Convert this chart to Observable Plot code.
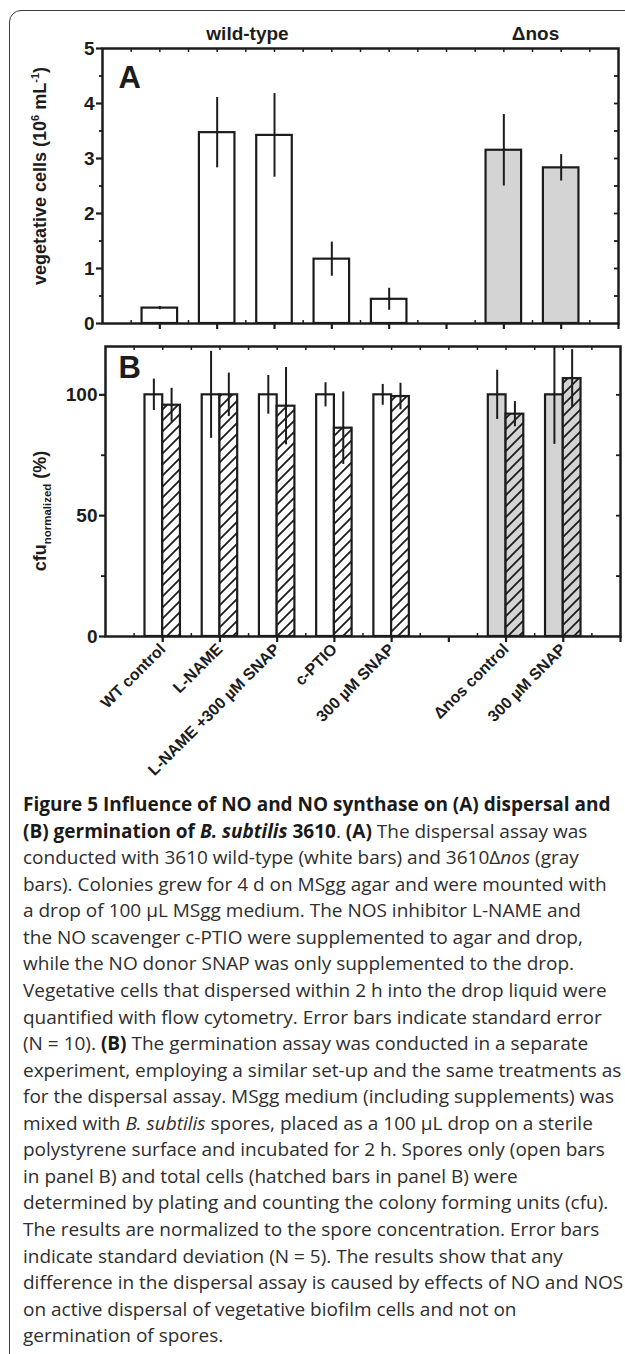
<!DOCTYPE html>
<html><head><meta charset="utf-8">
<script src="https://cdn.jsdelivr.net/npm/d3@7"></script>
<script src="https://cdn.jsdelivr.net/npm/@observablehq/plot@0.6"></script>
<style>
html,body{margin:0;padding:0;background:#fff;width:625px;height:1354px;overflow:hidden;}
#frame{position:absolute;left:9px;top:10px;width:800px;height:1500px;border:1.4px solid #3c3c3c;border-top-left-radius:12px;box-sizing:border-box;}
#panelA{position:absolute;left:0;top:0;}
#panelB{position:absolute;left:0;top:330px;}
#caption{position:absolute;left:23px;top:791px;font-family:"Open Sans",sans-serif;font-size:19px;line-height:26.57px;color:#2e2e2e;white-space:nowrap;}
#caption b{font-weight:700;color:#1a1a1a}
</style></head><body>
<div id="frame"></div>
<div id="panelA"></div>
<div id="panelB"></div>
<div id="caption">
<b>Figure 5 Influence of NO and NO synthase on (A) dispersal and</b><br>
<b>(B) germination of <i>B. subtilis</i> 3610</b>. <b>(A)</b> The dispersal assay was<br>
conducted with 3610 wild-type (white bars) and 3610Δ<i>nos</i> (gray<br>
bars). Colonies grew for 4 d on MSgg agar and were mounted with<br>
a drop of 100 µL MSgg medium. The NOS inhibitor L-NAME and<br>
the NO scavenger c-PTIO were supplemented to agar and drop,<br>
while the NO donor SNAP was only supplemented to the drop.<br>
Vegetative cells that dispersed within 2 h into the drop liquid were<br>
quantified with flow cytometry. Error bars indicate standard error<br>
(N = 10). <b>(B)</b> The germination assay was conducted in a separate<br>
experiment, employing a similar set-up and the same treatments as<br>
for the dispersal assay. MSgg medium (including supplements) was<br>
mixed with <i>B. subtilis</i> spores, placed as a 100 µL drop on a sterile<br>
polystyrene surface and incubated for 2 h. Spores only (open bars<br>
in panel B) and total cells (hatched bars in panel B) were<br>
determined by plating and counting the colony forming units (cfu).<br>
The results are normalized to the spore concentration. Error bars<br>
indicate standard deviation (N = 5). The results show that any<br>
difference in the dispersal assay is caused by effects of NO and NOS<br>
on active dispersal of vegetative biofilm cells and not on<br>
germination of spores.
</div>
<script>
// ---- data ----
const categories = ["WT control","L-NAME","L-NAME +300 µM SNAP","c-PTIO","300 µM SNAP","","Δnos control","300 µM SNAP"];
const strains = ["wild-type","wild-type","wild-type","wild-type","wild-type","","Δnos","Δnos"];
const groupTitles = ["wild-type","Δnos"];
const dispersal   = [0.28,3.47,3.42,1.17,0.44,null,3.15,2.83];
const dispersalSE = [0.03,0.64,0.76,0.31,0.20,null,0.65,0.24];
const sporesOnly  = [100,100,100,100,100,null,100,100];
const sporesSD    = [6.5,18,8,5,4.3,null,10.2,20.5];
const totalCells  = [95.7,100,95.3,86.2,99.3,null,92,106.7];
const totalSD     = [7,9,16,15,5.5,null,5.2,12];
const yTicksA = [0,1,2,3,4,5];
const yTicksB = [0,50,100];

// ---- style ----
const ink = "#1c1c1c";
const gray = "#d4d4d4";
const font = "'Liberation Sans', Arial, Helvetica, sans-serif";
const barHalf = 0.31;

const rows = categories.map((c, i) => ({
  pos: i + 1, label: c, strain: strains[i],
  a: dispersal[i], aErr: dispersalSE[i],
  s: sporesOnly[i], sErr: sporesSD[i],
  t: totalCells[i], tErr: totalSD[i]
})).filter(d => d.a != null);

const nSlots = categories.length + 1;
const majorX = d3.range(1, nSlots + 1);
const minorX = d3.range(0.5, nSlots, 1);
const halfX = d3.range(0.5, nSlots, 0.5);
const blank = () => "";
const intFmt = d => String(d);
const isNos = d => d.strain === groupTitles[1];

// ---- Panel A ----
const plotA = Plot.plot({
  width: 625, height: 340,
  marginLeft: 102, marginRight: 7, marginTop: 48, marginBottom: 17,
  x: {domain: [0, nSlots]},
  y: {domain: [0, 5]},
  style: {fontFamily: font, color: ink, background: "transparent", overflow: "visible"},
  marks: [
    Plot.rectY(rows, {x1: d => d.pos - barHalf, x2: d => d.pos + barHalf, y: "a",
      fill: d => isNos(d) ? gray : "white", stroke: ink, strokeWidth: 2.2}),
    Plot.ruleX(rows, {x: "pos", y1: d => d.a - d.aErr, y2: d => d.a + d.aErr, stroke: ink, strokeWidth: 2}),
    Plot.frame({stroke: ink, strokeWidth: 2.5}),
    Plot.axisY({ticks: yTicksA, tickSize: 6, tickPadding: 2, tickFormat: intFmt, fontSize: 19, fontWeight: "bold", label: null, strokeWidth: 2.2}),
    Plot.axisY({ticks: d3.range(0.5, 5, 1), tickSize: 3, tickFormat: blank, label: null, strokeWidth: 1.8}),
    Plot.axisY({anchor: "right", ticks: d3.range(0.5, 5, 0.5), tickSize: -5, tickFormat: blank, label: null, strokeWidth: 1.8}),
    Plot.axisX({ticks: majorX, tickSize: 6, tickFormat: blank, label: null, strokeWidth: 2.2}),
    Plot.axisX({ticks: minorX, tickSize: -3, tickFormat: blank, label: null, strokeWidth: 1.5}),
    Plot.axisX({anchor: "top", ticks: halfX, tickSize: -3, tickFormat: blank, label: null, strokeWidth: 1.5}),
    Plot.text(["A"], {frameAnchor: "top-left", dx: 16, dy: 17, lineAnchor: "top", fontSize: 31, fontWeight: "bold", fill: ink}),
    Plot.text([groupTitles[0]], {frameAnchor: "top-left", textAnchor: "middle", lineAnchor: "middle", dx: 145, dy: -15, fontSize: 19, fontWeight: "bold", fill: ink}),
    Plot.text([groupTitles[1]], {frameAnchor: "top-left", textAnchor: "middle", lineAnchor: "middle", dx: 433, dy: -15, fontSize: 19, fontWeight: "bold", fill: ink})
  ]
});
document.getElementById("panelA").appendChild(plotA);

// ---- Panel B ----
const plotB = Plot.plot({
  width: 625, height: 470,
  marginLeft: 105, marginRight: 5, marginTop: 16, marginBottom: 164,
  x: {domain: [0, nSlots]},
  y: {domain: [0, 120]},
  style: {fontFamily: font, color: ink, background: "transparent", overflow: "visible"},
  marks: [
    Plot.rectY(rows, {x1: d => d.pos - barHalf, x2: "pos", y: "s",
      fill: d => isNos(d) ? gray : "white", stroke: ink, strokeWidth: 2.2}),
    Plot.rectY(rows, {x1: "pos", x2: d => d.pos + barHalf, y: "t",
      fill: d => isNos(d) ? "url(#hatchG)" : "url(#hatchW)", stroke: ink, strokeWidth: 2.2}),
    Plot.ruleX(rows, {x: d => d.pos - barHalf / 2, y1: d => d.s - d.sErr, y2: d => d.s + d.sErr, stroke: ink, strokeWidth: 2, clip: true}),
    Plot.ruleX(rows, {x: d => d.pos + barHalf / 2, y1: d => d.t - d.tErr, y2: d => d.t + d.tErr, stroke: ink, strokeWidth: 2, clip: true}),
    Plot.frame({stroke: ink, strokeWidth: 2.5}),
    Plot.axisY({ticks: yTicksB, tickSize: 6, tickPadding: 2, tickFormat: intFmt, fontSize: 19, fontWeight: "bold", label: null, strokeWidth: 2.2}),
    Plot.axisY({ticks: [25, 75], tickSize: 4, tickFormat: blank, label: null, strokeWidth: 1.8}),
    Plot.axisY({anchor: "right", ticks: [25, 50, 75, 100], tickSize: -5, tickFormat: blank, label: null, strokeWidth: 1.8}),
    Plot.axisX({ticks: majorX, tickSize: 6, tickPadding: 4, tickRotate: -45, fontSize: 16, fontWeight: "bold",
      tickFormat: d => categories[d - 1] ?? "", label: null, strokeWidth: 2.2}),
    Plot.axisX({ticks: minorX, tickSize: -3, tickFormat: blank, label: null, strokeWidth: 1.5}),
    Plot.axisX({anchor: "top", ticks: halfX, tickSize: -3, tickFormat: blank, label: null, strokeWidth: 1.5}),
    Plot.text(["B"], {frameAnchor: "top-left", dx: 13, dy: 9, lineAnchor: "top", fontSize: 31, fontWeight: "bold", fill: ink})
  ]
});
document.getElementById("panelB").appendChild(plotB);

// hatch patterns
function addHatch(svg, id, bg) {
  const p = 11;
  const defs = d3.select(svg).insert("defs", ":first-child");
  const pat = defs.append("pattern").attr("id", id).attr("patternUnits", "userSpaceOnUse")
    .attr("width", p).attr("height", p);
  pat.append("rect").attr("width", p).attr("height", p).attr("fill", bg);
  pat.append("path").attr("d", `M${-p/2},${p/2}L${p/2},${-p/2}M0,${p}L${p},0M${p/2},${1.5*p}L${1.5*p},${p/2}`)
    .attr("stroke", ink).attr("stroke-width", 1.8);
}
addHatch(plotB, "hatchW", "white");
addHatch(plotB, "hatchG", gray);

// y-axis titles with super/subscripts
function yTitle(svg, cx, cy, parts) {
  const t = d3.select(svg).append("text")
    .attr("transform", `translate(${cx},${cy}) rotate(-90)`)
    .attr("text-anchor", "middle").attr("font-family", font).attr("font-weight", "bold")
    .attr("fill", ink);
  let shift = 0;
  for (const [txt, size, off] of parts) {
    t.append("tspan").attr("font-size", size).attr("dy", off - shift).text(txt);
    shift = off;
  }
}
yTitle(plotA, 46, 176, [["vegetative cells (10", 18, 0], ["6", 11, -7], [" mL", 18, 0], ["-1", 11, -7], [")", 18, 0]]);
yTitle(plotB, 46, 181, [["cfu", 18, 0], ["normalized", 11.5, 5], [" (%)", 18, 0]]);
</script>
</body></html>
